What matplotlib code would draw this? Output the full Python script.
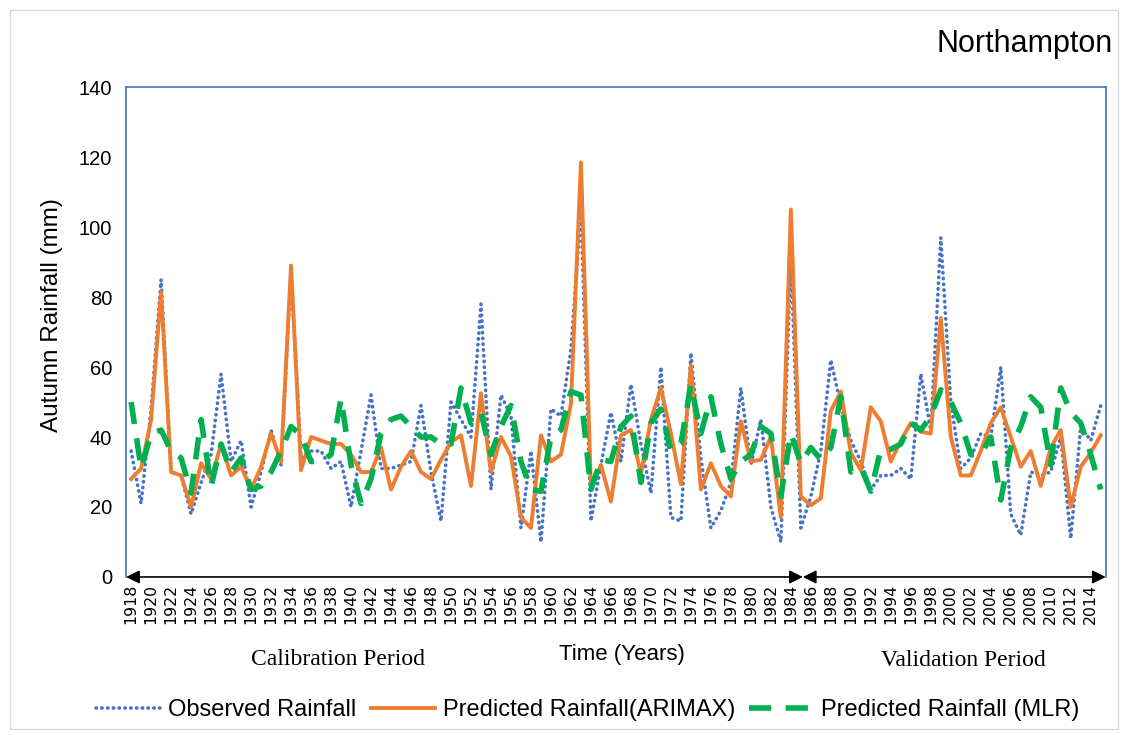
import matplotlib
matplotlib.use("Agg")
import matplotlib.pyplot as plt
from matplotlib.patches import Rectangle

# data (mm), one value per year 1918-2015
years = list(range(1918, 2016))

observed = [36, 21, 48, 85, 30, 29, 18, 27, 35, 58,
            33, 39, 20, 30, 42, 32, 88, 34, 36, 36,
            31, 33, 20, 36, 52, 31, 31, 32, 33, 49,
            30, 16, 50, 45, 40, 78, 25, 52, 46, 14,
            36, 10, 48, 46, 65, 105, 16, 32, 47, 33,
            55, 38, 24, 60, 17, 16, 64, 34, 14, 19,
            27, 54, 32, 45, 20, 10, 91, 14, 23, 36,
            62, 49, 39, 33, 25, 29, 29, 31, 28, 58,
            42, 97, 50, 31, 34, 41, 40, 60, 18, 12,
            30, 29, 30, 40, 11, 43, 39, 49]

arimax = [28, 31, 45, 81.5, 30, 29, 20, 32.5, 28, 38,
          29, 31.5, 25, 31.5, 41, 33, 89, 30.5, 40, 39,
          38, 38, 35, 30, 30, 37, 25, 31.5, 36, 30,
          28, 33.5, 38.5, 40.5, 26, 52.5, 30, 40, 34.5, 17,
          14, 40.5, 33, 35, 49.5, 118.5, 25.5, 32, 21.5, 40.5,
          42, 29.5, 45, 54, 41, 26.5, 60.5, 25, 32.5, 26,
          23, 44.5, 33, 33.5, 40, 17, 105, 23, 20.5, 22.5,
          47.5, 53, 35.5, 30.5, 48.5, 44.5, 33, 39, 44, 41.5,
          41, 74, 40, 29, 29, 36, 44, 48.5, 40, 31.5,
          36, 26, 37, 42, 20, 31.5, 35.5, 40.5]

mlr = [50, 31, 41, 42, 36, 34, 24, 45, 26, 38,
       30, 34, 25, 26, 30, 36, 43, 40.5, 33, 33,
       35, 51, 32, 21, 28, 41, 45, 46, 43, 40,
       40, 38, 38, 54, 44, 47, 35, 43, 49, 33,
       25, 24.5, 40, 42, 53, 52, 25, 33.5, 33, 43,
       46, 27, 44, 48, 36, 38, 55, 41, 51.5, 38,
       28, 33, 35, 43, 41, 23, 41, 32.5, 37, 33.5,
       37, 51.5, 30, 31.5, 24.5, 36.5, 36.5, 38, 44, 42,
       46, 53.5, 50, 44, 35, 35, 40, 22, 37, 43,
       51.5, 48.5, 32, 54, 47, 44, 35, 25]

tick_years = list(range(1918, 2015, 2))
split_year = 1985

plt.rcParams['font.family'] = ['Liberation Sans', 'DejaVu Sans']

fig = plt.figure(figsize=(11.26, 7.35), dpi=100)
ax = fig.add_axes([0.112, 0.215, 0.870, 0.6665])

# light chart border
fig.patches.append(Rectangle((0.009, 0.008), 0.984, 0.979, transform=fig.transFigure,
                             fill=False, edgecolor='#d9d9d9', lw=1))

x = list(range(len(years)))
ax.plot(x, observed, color='#4472C4', lw=2.6, linestyle=(0, (0.1, 1.5)),
        dash_capstyle='round', label='Observed Rainfall')
ax.plot(x, arimax, color='#ED7D31', lw=2.8, label='Predicted Rainfall(ARIMAX)')
ax.plot(x, mlr, color='#00B050', lw=4, linestyle=(0, (4, 2.6)),
        label='Predicted Rainfall (MLR)')

ax.set_xlim(-0.5, len(years) - 0.5)
ax.set_ylim(0, 140)
ax.set_yticks(range(0, 141, 20))
ax.set_xticks([years.index(y) for y in tick_years])
ax.set_xticklabels([str(y) for y in tick_years], rotation=90, family='DejaVu Sans',
                   fontsize=11.3)
ax.tick_params(axis='x', length=0, pad=5)
ax.tick_params(axis='y', length=0, pad=10, labelsize=14.5)

for s in ['left', 'top', 'right']:
    ax.spines[s].set_color('#4472C4')
    ax.spines[s].set_linewidth(1.2)
ax.spines['bottom'].set_visible(False)

# period arrows along the x axis
sx = years.index(split_year) + 0.2
arrow = dict(arrowstyle='<|-|>', color='black', lw=1.2, mutation_scale=20,
             shrinkA=0, shrinkB=0)
ax.annotate('', xy=(-0.5, 0), xytext=(sx, 0), arrowprops=arrow, annotation_clip=False)
ax.annotate('', xy=(sx, 0), xytext=(len(years) - 0.5, 0), arrowprops=arrow,
            annotation_clip=False)

ax.set_ylabel('Autumn Rainfall (mm)', fontsize=17.5)
ax.yaxis.set_label_coords(-0.064, 0.535)
fig.text(0.552, 0.110, 'Time (Years)', fontsize=16, ha='center', va='center')
fig.text(0.300, 0.103, 'Calibration Period', fontsize=17, family='Liberation Serif',
         ha='center', va='center')
fig.text(0.856, 0.101, 'Validation Period', fontsize=17, family='Liberation Serif',
         ha='center', va='center')
fig.text(0.988, 0.940, 'Northampton', fontsize=22, ha='right', va='center')

fig.legend(loc='center', bbox_to_anchor=(0.522, 0.034), ncol=3, frameon=False,
           fontsize=17, handlelength=2.75, columnspacing=0.6, handletextpad=0.3)

fig.savefig('out.png', dpi=100)
